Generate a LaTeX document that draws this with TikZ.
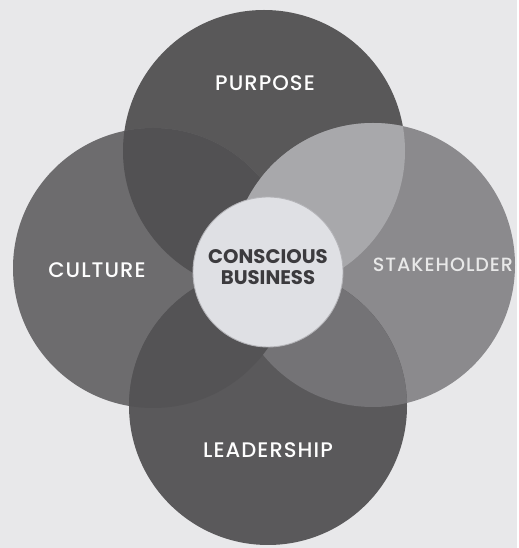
\documentclass[tikz,border=0pt]{standalone}
\usepackage{fontspec}
\setmainfont{Poppins}
\newfontfamily\labelfont{Poppins}[UprightFont=* Medium,LetterSpace=5]
\usepackage{xcolor}
\usepackage{tikz}
\definecolor{paper}{HTML}{E8E8EA}
\definecolor{purp}{HTML}{595859}
\definecolor{cult}{HTML}{6D6C6E}
\definecolor{stak}{HTML}{8B8A8D}
\definecolor{lead}{HTML}{5A595B}
\definecolor{purpcult}{HTML}{525153}
\definecolor{purpstak}{HTML}{A8A8AB}
\definecolor{leadstak}{HTML}{747376}
\definecolor{leadcult}{HTML}{545355}
\definecolor{core}{HTML}{DFE0E4}
\definecolor{coreedge}{HTML}{B4B4B8}
\definecolor{coreink}{HTML}{3C3B3E}

\begin{document}
\begin{tikzpicture}[x=0.02cm,y=0.02cm,
  lbl/.style={font=\labelfont\fontsize{12}{12}\selectfont,text=white!95!paper},
  coretext/.style={font=\bfseries\fontsize{11.2}{11.6}\selectfont,text=coreink,align=center}]
\fill[paper] (0,0) rectangle (517,548);
% centres of the four rings and the core
\coordinate (pc) at (264,397);
\coordinate (cc) at (153,280);
\coordinate (sc) at (373,283);
\coordinate (lc) at (268,142);
\coordinate (bc) at (268,276);
\foreach \c/\r/\col in {pc/141/purp,cc/140/cult,sc/142/stak,lc/139/lead}{
  \fill[\col] (\c) circle (\r);}
% lens shading where two rings meet
\foreach \a/\ra/\b/\rb/\col in {pc/141/cc/140/purpcult,pc/141/sc/142/purpstak,
  lc/139/sc/142/leadstak,lc/139/cc/140/leadcult}{
  \begin{scope}
    \clip (\a) circle (\ra);
    \fill[\col] (\b) circle (\rb);
  \end{scope}}
\filldraw[fill=core,draw=coreedge,line width=0.5pt] (bc) circle (75);
\node[coretext] (conscious) at (268,281) {CONSCIOUS\\BUSINESS};
\node[lbl] (purpose) at (265,465) {PURPOSE};
\node[lbl] (culture) at (97,278) {CULTURE};
\node[lbl,font=\labelfont\fontsize{10.9}{12}\selectfont,text=white!80!stak] (stakeholder) at (443,283) {STAKEHOLDER};
\node[lbl] (leadership) at (268,98) {LEADERSHIP};
\end{tikzpicture}
\end{document}
